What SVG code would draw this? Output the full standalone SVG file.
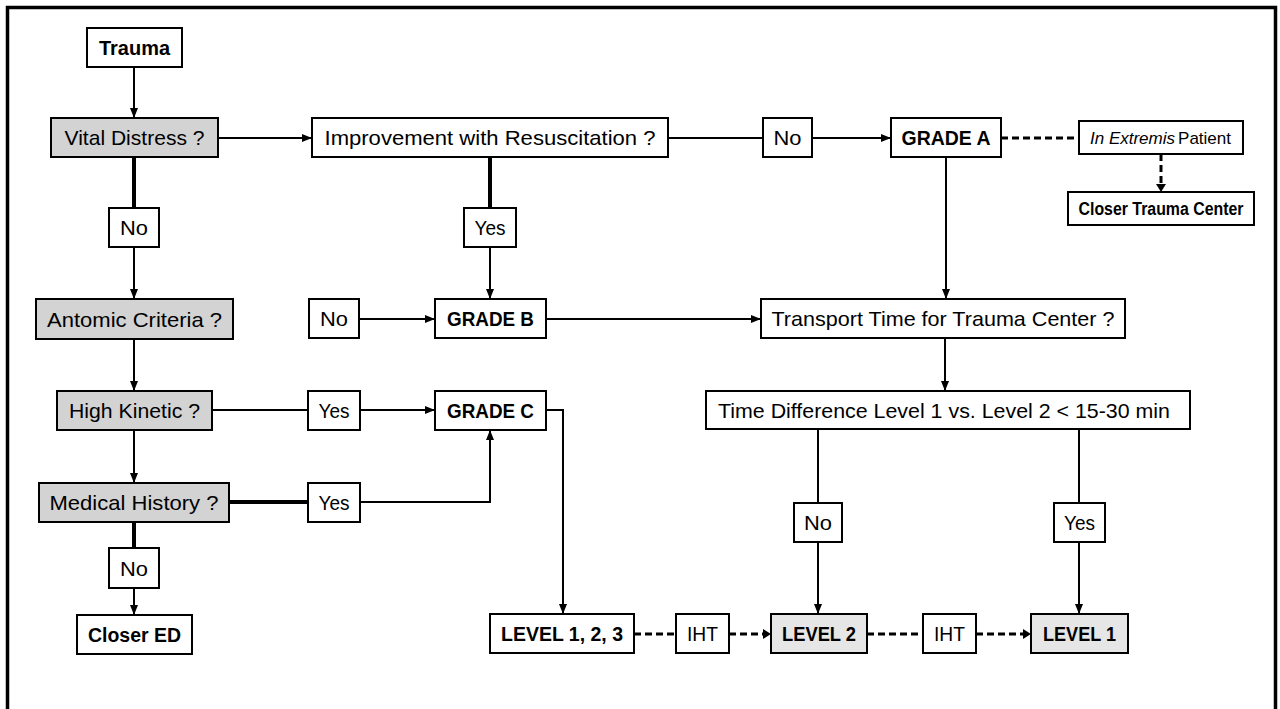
<svg xmlns="http://www.w3.org/2000/svg" width="1280" height="709" viewBox="0 0 1280 709">
<style>
.box{fill:#fff;stroke:#000;stroke-width:2}
.q{fill:#d3d3d3}
.lv{fill:#e6e6e6}
text{font-family:"Liberation Sans",Arial,sans-serif;font-size:21px;fill:#000;text-anchor:middle}
.b{font-weight:bold;font-size:20px}
.i{font-style:italic}
.ln{fill:none;stroke:#000;stroke-width:2}
.th{stroke-width:4}
.ds{stroke-width:3;stroke-dasharray:7 4}
</style>
<defs>
<marker id="ah" markerUnits="userSpaceOnUse" markerWidth="10" markerHeight="10" viewBox="0 0 10 10" refX="10" refY="5" orient="auto">
<path d="M0,1 L10,5 L0,9 z" fill="#000"/>
</marker>
</defs>
<rect x="7.5" y="7.5" width="1268" height="720" fill="#fff" stroke="#000" stroke-width="3.5"/>
<g id="connectors">
<line class="ln" x1="134" y1="67" x2="134" y2="118" marker-end="url(#ah)"/>
<line class="ln" x1="218" y1="138" x2="312" y2="138" marker-end="url(#ah)"/>
<line class="ln th" x1="134" y1="157" x2="134" y2="208"/>
<line class="ln" x1="134" y1="247" x2="134" y2="299" marker-end="url(#ah)"/>
<line class="ln th" x1="490" y1="157" x2="490" y2="208"/>
<line class="ln" x1="490" y1="247" x2="490" y2="299" marker-end="url(#ah)"/>
<line class="ln" x1="668" y1="138" x2="763" y2="138"/>
<line class="ln" x1="812" y1="138" x2="891" y2="138" marker-end="url(#ah)"/>
<line class="ln ds" x1="1001" y1="138" x2="1079" y2="138"/>
<line class="ln ds" x1="1161" y1="154" x2="1161" y2="186"/>
<path d="M1156,184 L1161,192 L1166,184 z" fill="#000"/>
<line class="ln" x1="946" y1="157" x2="946" y2="299" marker-end="url(#ah)"/>
<line class="ln" x1="134" y1="339" x2="134" y2="391" marker-end="url(#ah)"/>
<line class="ln" x1="359" y1="319" x2="435" y2="319" marker-end="url(#ah)"/>
<line class="ln" x1="546" y1="319" x2="761" y2="319" marker-end="url(#ah)"/>
<line class="ln" x1="212" y1="410" x2="308" y2="410"/>
<line class="ln" x1="360" y1="410" x2="435" y2="410" marker-end="url(#ah)"/>
<line class="ln" x1="134" y1="430" x2="134" y2="483" marker-end="url(#ah)"/>
<line class="ln th" x1="229" y1="502" x2="308" y2="502"/>
<polyline class="ln" points="360,502 490,502 490,430" marker-end="url(#ah)"/>
<polyline class="ln" points="546,410 563,410 563,614" marker-end="url(#ah)"/>
<line class="ln th" x1="134" y1="522" x2="134" y2="548"/>
<line class="ln" x1="134" y1="588" x2="134" y2="615" marker-end="url(#ah)"/>
<line class="ln" x1="945" y1="338" x2="945" y2="391" marker-end="url(#ah)"/>
<line class="ln" x1="818" y1="429" x2="818" y2="503"/>
<line class="ln" x1="818" y1="542" x2="818" y2="614" marker-end="url(#ah)"/>
<line class="ln" x1="1079" y1="429" x2="1079" y2="503"/>
<line class="ln" x1="1079" y1="542" x2="1079" y2="614" marker-end="url(#ah)"/>
<line class="ln ds" x1="634" y1="634" x2="676" y2="634"/>
<line class="ln ds" x1="729" y1="634" x2="763" y2="634"/>
<path d="M763,629 L771,634 L763,639 z" fill="#000"/>
<line class="ln ds" x1="867" y1="634" x2="923" y2="634"/>
<line class="ln ds" x1="976" y1="634" x2="1023" y2="634"/>
<path d="M1023,629 L1031,634 L1023,639 z" fill="#000"/>
</g>
<g id="trauma"><rect class="box" x="87" y="28" width="95" height="39"/><text class="b" x="134.5" y="55" textLength="71" lengthAdjust="spacingAndGlyphs">Trauma</text></g>
<g id="vital"><rect class="box q" x="51" y="118" width="167" height="39"/><text x="134.5" y="145" textLength="140" lengthAdjust="spacingAndGlyphs">Vital Distress ?</text></g>
<g id="improvement"><rect class="box" x="312" y="118" width="356" height="39"/><text x="490" y="145" textLength="331" lengthAdjust="spacingAndGlyphs">Improvement with Resuscitation ?</text></g>
<g id="no-a"><rect class="box" x="763" y="118" width="49" height="39"/><text x="787.5" y="145" textLength="28" lengthAdjust="spacingAndGlyphs">No</text></g>
<g id="gradeA"><rect class="box" x="891" y="118" width="110" height="39"/><text class="b" x="946" y="145" textLength="89" lengthAdjust="spacingAndGlyphs">GRADE A</text></g>
<g id="inExtremis"><rect class="box" x="1079" y="121" width="164" height="33"/><text class="i" x="1090" y="144" style="font-size:17px;text-anchor:start">In Extremis</text><text x="1231" y="144" style="font-size:17px;text-anchor:end">Patient</text></g>
<g id="closerTC"><rect class="box" x="1068" y="192" width="186" height="33"/><text class="b" x="1161" y="215" style="font-size:18px" textLength="165" lengthAdjust="spacingAndGlyphs">Closer Trauma Center</text></g>
<g id="no-vital"><rect class="box" x="109" y="208" width="50" height="39"/><text x="134" y="235" textLength="28" lengthAdjust="spacingAndGlyphs">No</text></g>
<g id="yes-imp"><rect class="box" x="464" y="208" width="52" height="39"/><text x="490" y="235" textLength="31" lengthAdjust="spacingAndGlyphs">Yes</text></g>
<g id="antomic"><rect class="box q" x="36" y="299" width="197" height="40"/><text x="134.5" y="326.5" textLength="175" lengthAdjust="spacingAndGlyphs">Antomic Criteria ?</text></g>
<g id="no-b"><rect class="box" x="309" y="299" width="50" height="39"/><text x="334" y="326" textLength="28" lengthAdjust="spacingAndGlyphs">No</text></g>
<g id="gradeB"><rect class="box" x="435" y="299" width="111" height="39"/><text class="b" x="490.5" y="326" textLength="87" lengthAdjust="spacingAndGlyphs">GRADE B</text></g>
<g id="transport"><rect class="box" x="761" y="299" width="364" height="39"/><text x="943" y="326" textLength="343" lengthAdjust="spacingAndGlyphs">Transport Time for Trauma Center ?</text></g>
<g id="highKinetic"><rect class="box q" x="57" y="391" width="155" height="39"/><text x="134.5" y="418" textLength="131" lengthAdjust="spacingAndGlyphs">High Kinetic ?</text></g>
<g id="yes-hk"><rect class="box" x="308" y="391" width="52" height="39"/><text x="334" y="418" textLength="31" lengthAdjust="spacingAndGlyphs">Yes</text></g>
<g id="gradeC"><rect class="box" x="435" y="391" width="111" height="39"/><text class="b" x="490.5" y="418" textLength="87" lengthAdjust="spacingAndGlyphs">GRADE C</text></g>
<g id="timeDiff"><rect class="box" x="706" y="391" width="484" height="38"/><text x="944" y="417.5" textLength="452" lengthAdjust="spacingAndGlyphs">Time Difference Level 1 vs. Level 2 &lt; 15-30 min</text></g>
<g id="medical"><rect class="box q" x="39" y="483" width="190" height="39"/><text x="134" y="510" textLength="169" lengthAdjust="spacingAndGlyphs">Medical History ?</text></g>
<g id="yes-mh"><rect class="box" x="308" y="483" width="52" height="39"/><text x="334" y="510" textLength="31" lengthAdjust="spacingAndGlyphs">Yes</text></g>
<g id="no-td"><rect class="box" x="794" y="503" width="48" height="39"/><text x="818" y="530" textLength="28" lengthAdjust="spacingAndGlyphs">No</text></g>
<g id="yes-td"><rect class="box" x="1054" y="503" width="51" height="39"/><text x="1079.5" y="530" textLength="31" lengthAdjust="spacingAndGlyphs">Yes</text></g>
<g id="no-mh"><rect class="box" x="109" y="548" width="50" height="40"/><text x="134" y="575.5" textLength="28" lengthAdjust="spacingAndGlyphs">No</text></g>
<g id="closerED"><rect class="box" x="77" y="615" width="115" height="39"/><text class="b" x="134.5" y="642" textLength="93" lengthAdjust="spacingAndGlyphs">Closer ED</text></g>
<g id="level123"><rect class="box" x="490" y="614" width="144" height="39"/><text class="b" x="562" y="641" textLength="122" lengthAdjust="spacingAndGlyphs">LEVEL 1, 2, 3</text></g>
<g id="iht1"><rect class="box" x="676" y="614" width="53" height="39"/><text x="702.5" y="641" textLength="31" lengthAdjust="spacingAndGlyphs">IHT</text></g>
<g id="level2"><rect class="box lv" x="771" y="614" width="96" height="39"/><text class="b" x="819" y="641" textLength="74" lengthAdjust="spacingAndGlyphs">LEVEL 2</text></g>
<g id="iht2"><rect class="box" x="923" y="614" width="53" height="39"/><text x="949.5" y="641" textLength="31" lengthAdjust="spacingAndGlyphs">IHT</text></g>
<g id="level1"><rect class="box lv" x="1031" y="614" width="97" height="39"/><text class="b" x="1079.5" y="641" textLength="73" lengthAdjust="spacingAndGlyphs">LEVEL 1</text></g>
</svg>
